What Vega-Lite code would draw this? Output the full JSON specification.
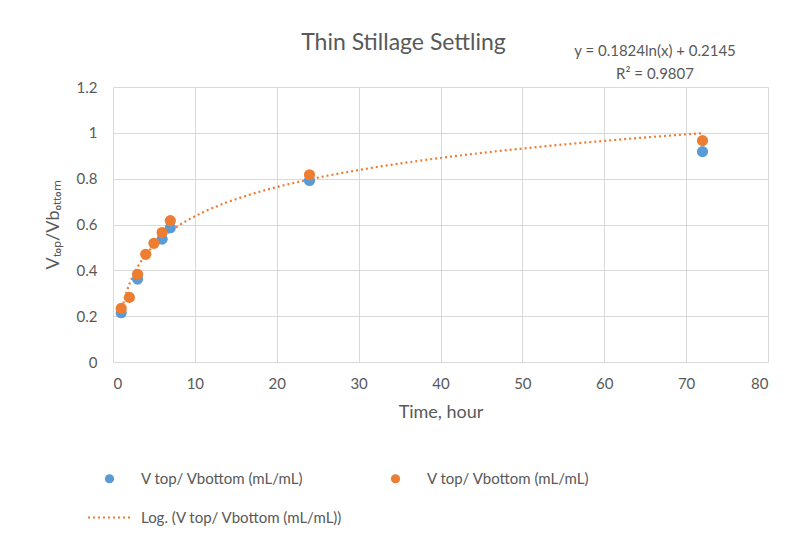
{
  "$schema": "https://vega.github.io/schema/vega-lite/v6.json",
  "width": 655,
  "height": 275,
  "autosize": {"type": "none"},
  "padding": {"left": 113, "top": 87, "right": 19, "bottom": 181},
  "background": "white",
  "config": {
    "font": "Lato",
    "view": {"stroke": null},
    "axis": {
      "grid": true,
      "gridColor": "#d9d9d9",
      "gridWidth": 1,
      "domain": false,
      "ticks": false,
      "labelColor": "#595959",
      "labelFontSize": 15,
      "titleColor": "#595959",
      "titleFontWeight": "normal",
      "titleFontSize": 18
    }
  },
  "title": {
    "text": "Thin Stillage Settling",
    "fontSize": 23,
    "fontWeight": "normal",
    "color": "#595959",
    "anchor": "middle",
    "dx": -37,
    "offset": -11
  },
  "datasets": {
    "points": [
      {"series": "s1", "time": 1, "ratio": 0.215},
      {"series": "s1", "time": 3, "ratio": 0.362},
      {"series": "s1", "time": 6, "ratio": 0.536},
      {"series": "s1", "time": 7, "ratio": 0.586},
      {"series": "s1", "time": 24, "ratio": 0.792},
      {"series": "s1", "time": 72, "ratio": 0.918},
      {"series": "s2", "time": 1, "ratio": 0.234},
      {"series": "s2", "time": 2, "ratio": 0.282},
      {"series": "s2", "time": 3, "ratio": 0.383},
      {"series": "s2", "time": 4, "ratio": 0.47},
      {"series": "s2", "time": 5, "ratio": 0.518},
      {"series": "s2", "time": 6, "ratio": 0.565},
      {"series": "s2", "time": 7, "ratio": 0.617},
      {"series": "s2", "time": 24, "ratio": 0.817},
      {"series": "s2", "time": 72, "ratio": 0.966}
    ],
    "note": [
      {"line1": "y = 0.1824ln(x) + 0.2145", "line2": "R² = 0.9807"}
    ]
  },
  "layer": [
    {
      "data": {"name": "points"},
      "transform": [
        {"filter": "datum.series == 's2'"},
        {"regression": "ratio", "on": "time", "method": "log", "extent": [1, 72]}
      ],
      "mark": {"type": "line", "strokeDash": [2, 3], "strokeWidth": 2.2},
      "encoding": {
        "x": {"field": "time", "type": "quantitative"},
        "y": {"field": "ratio", "type": "quantitative"},
        "color": {
          "datum": "trend",
          "title": null,
          "scale": {"domain": ["s1", "s2", "trend"], "range": ["#5B9BD5", "#ED7D31", "#ED7D31"]},
          "legend": {
            "title": null,
            "orient": "none",
            "legendX": -11,
            "legendY": 384,
            "columns": 2,
            "direction": "horizontal",
            "columnPadding": 45,
            "rowPadding": 23,
            "symbolSize": 1849,
            "labelFontSize": 15,
            "labelColor": "#595959",
            "labelOffset": 24,
            "labelLimit": 400,
            "labelExpr": "datum.value == 'trend' ? 'Log. (V top/ Vbottom (mL/mL))' : 'V top/ Vbottom (mL/mL)'",
            "encode": {
              "symbols": {
                "update": {
                  "shape": {"signal": "datum.value == 'trend' ? 'stroke' : 'circle'"},
                  "size": {"signal": "datum.value == 'trend' ? 1849 : 85"},
                  "fill": {"signal": "datum.value == 'trend' ? 'transparent' : scale('color', datum.value)"},
                  "stroke": {"signal": "scale('color', datum.value)"},
                  "strokeWidth": {"signal": "datum.value == 'trend' ? 2 : 0"},
                  "strokeDash": {"signal": "datum.value == 'trend' ? [2, 3] : [1, 0]"},
                  "opacity": {"value": 1}
                }
              }
            }
          }
        }
      }
    },
    {
      "data": {"name": "points"},
      "mark": {"type": "point", "filled": true, "size": 125, "opacity": 1},
      "encoding": {
        "x": {
          "field": "time",
          "type": "quantitative",
          "scale": {"domain": [0, 80], "nice": false},
          "axis": {"values": [0, 10, 20, 30, 40, 50, 60, 70, 80], "title": "Time, hour", "labelPadding": 14, "titlePadding": 12}
        },
        "y": {
          "field": "ratio",
          "type": "quantitative",
          "scale": {"domain": [0, 1.2], "nice": false},
          "axis": {"values": [0, 0.2, 0.4, 0.6, 0.8, 1, 1.2], "format": "~g", "title": "Vₜₒₚ/Vbₒₜₜₒₘ", "labelPadding": 16, "titlePadding": 14}
        },
        "color": {
          "field": "series",
          "type": "nominal",
          "title": null
        }
      }
    },
    {
      "data": {"name": "note"},
      "mark": {"type": "text", "align": "center", "baseline": "middle", "fontSize": 15, "color": "#595959", "lineHeight": 23},
      "encoding": {
        "x": {"datum": 66.2},
        "y": {"datum": 1.358},
        "text": {"value": ["y = 0.1824ln(x) + 0.2145", "R² = 0.9807"]}
      }
    }
  ]
}
